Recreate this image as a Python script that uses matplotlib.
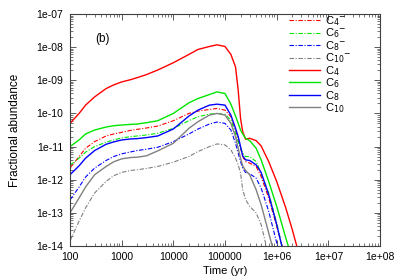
import matplotlib
matplotlib.use("Agg")
import matplotlib.pyplot as plt
import numpy as np

plt.rcParams['font.family'] = ['Liberation Sans', 'DejaVu Sans']

time_yr = [100, 150, 200, 300, 500, 700, 1e3, 1.5e3, 2e3, 3e3, 5e3, 1e4, 2e4, 3e4, 5e4, 7e4,
           1e5, 1.3e5, 1.6e5, 1.8e5, 2e5, 2.2e5, 2.5e5, 3e5, 4e5, 5e5, 7e5, 1e6, 1.5e6, 2e6, 3e6]

# log10 fractional abundances
log_C4m = [-11.65, -11.3, -11.05, -10.85, -10.68, -10.62, -10.57, -10.51, -10.48, -10.44, -10.38,
           -10.22, -10.0, -9.93, -9.88, -9.85,
           -9.9, -10.1, -10.5, -10.8, -11.05, -11.3, -11.45, -11.5, -11.6, -11.9, -12.55, -13.4,
           -14.4, -15.2, -16.0]
log_C6m = [-11.56, -11.35, -11.17, -11.0, -10.87, -10.8, -10.74, -10.7, -10.68, -10.65, -10.6,
           -10.45, -10.22, -10.1, -10.02, -10.0,
           -10.03, -10.2, -10.6, -10.85, -11.05, -11.2, -11.3, -11.3, -11.45, -11.8, -12.4, -13.3,
           -14.5, -15.3, -16.0]
log_C8m = [-12.61, -12.22, -11.92, -11.65, -11.42, -11.3, -11.22, -11.16, -11.12, -11.08, -11.02,
           -10.85, -10.62, -10.47, -10.32, -10.26,
           -10.3, -10.5, -10.9, -11.2, -11.45, -11.65, -11.78, -11.82, -11.95, -12.25, -12.95, -13.9,
           -15.0, -15.8, -16.5]
log_C10m = [-13.85, -13.25, -12.85, -12.4, -12.05, -11.88, -11.78, -11.72, -11.7, -11.66, -11.6,
            -11.47, -11.3, -11.15, -11.0, -10.92,
            -10.95, -11.1, -11.35, -11.55, -11.8, -12.3, -12.6, -12.8, -13.0, -13.35, -14.3, -15.2,
            -16.0, -16.5, -17.0]
log_C4 = [-10.3, -10.0, -9.75, -9.5, -9.25, -9.14, -9.05, -8.98, -8.92, -8.83, -8.69,
          -8.47, -8.22, -8.07, -7.98, -7.93,
          -7.98, -8.22, -8.6, -9.3, -10.15, -10.55, -10.78, -10.75, -10.82, -10.98, -11.45, -12.05,
          -12.85, -13.5, -14.5]
log_C6 = [-11.0, -10.8, -10.62, -10.5, -10.41, -10.37, -10.35, -10.33, -10.32, -10.28, -10.22,
          -10.0, -9.68, -9.55, -9.43, -9.35,
          -9.4, -9.72, -10.08, -10.3, -10.5, -10.62, -10.75, -10.82, -11.05, -11.4, -12.05, -12.8,
          -13.75, -14.4, -15.3]
log_C8 = [-11.85, -11.58, -11.35, -11.12, -10.93, -10.86, -10.8, -10.77, -10.76, -10.73, -10.68,
          -10.47, -10.08, -9.9, -9.75, -9.72,
          -9.75, -10.05, -10.45, -10.7, -11.0, -11.28, -11.4, -11.42, -11.55, -11.78, -12.45, -13.35,
          -14.5, -15.3, -16.0]
log_C10 = [-13.0, -12.55, -12.22, -11.85, -11.6, -11.46, -11.37, -11.33, -11.32, -11.28, -11.13,
           -10.9, -10.45, -10.25, -10.05, -10.0,
           -10.05, -10.3, -10.7, -11.05, -11.35, -11.58, -11.72, -11.85, -12.3, -12.75, -13.6, -14.5,
           -15.5, -16.0, -16.5]

series = [
    (log_C4m, r'C$_4$$^{-}$', 'red', '-.', 0.8),
    (log_C6m, r'C$_6$$^{-}$', '#00e600', '-.', 0.8),
    (log_C8m, r'C$_8$$^{-}$', 'blue', '-.', 0.8),
    (log_C10m, r'C$_{10}$$^{-}$', 'gray', '-.', 0.8),
    (log_C4, r'C$_4$', 'red', '-', 1.0),
    (log_C6, r'C$_6$', '#00e600', '-', 1.0),
    (log_C8, r'C$_8$', 'blue', '-', 1.0),
    (log_C10, r'C$_{10}$', 'gray', '-', 1.0),
]

fig = plt.figure(figsize=(4.0, 2.8), dpi=100)
ax = fig.add_axes([0.175, 0.1214, 0.775, 0.8286])

t = np.array(time_yr)
for vals, lab, col, ls, lw in series:
    if ls == '-.':
        ax.plot(t, 10 ** np.array(vals), color=col, lw=lw, label=lab,
                dashes=(4, 1.5, 1, 1.5))
    else:
        ax.plot(t, 10 ** np.array(vals), color=col, lw=lw, label=lab, ls='-')

ax.set_xscale('log')
ax.set_yscale('log')
ax.set_xlim(100, 1e8)
ax.set_ylim(1e-14, 1e-7)

xt = [1e2, 1e3, 1e4, 1e5, 1e6, 1e7, 1e8]
xtl = ['100', '1000', '10000', '100000', '1e+06', '1e+07', '1e+08']
yt = [1e-14, 1e-13, 1e-12, 1e-11, 1e-10, 1e-9, 1e-8, 1e-7]
ytl = ['1e-14', '1e-13', '1e-12', '1e-11', '1e-10', '1e-09', '1e-08', '1e-07']
ax.set_xticks(xt)
ax.set_xticklabels(xtl)
ax.set_yticks(yt)
ax.set_yticklabels(ytl)
ax.xaxis.set_minor_locator(matplotlib.ticker.LogLocator(base=10, subs=np.arange(2, 10)))
ax.yaxis.set_minor_locator(matplotlib.ticker.LogLocator(base=10, subs=np.arange(2, 10)))
ax.xaxis.set_minor_formatter(matplotlib.ticker.NullFormatter())
ax.yaxis.set_minor_formatter(matplotlib.ticker.NullFormatter())
ax.tick_params(which='both', direction='in', top=True, right=True, labelsize=7.5,
               color='#404040')
ax.tick_params(which='major', length=4, width=0.6)
ax.tick_params(which='minor', length=2, width=0.5)
ax.tick_params(axis='x', pad=4)
ax.tick_params(axis='y', pad=5)
for s in ax.spines.values():
    s.set_color('#404040')
    s.set_linewidth(0.8)

ax.set_xlabel('Time (yr)', fontsize=8, labelpad=3)
ax.set_ylabel('Fractional abundance', fontsize=8.5, labelpad=11)
ax.text(0.08, 0.88, '(b)', transform=ax.transAxes, fontsize=8.5)

leg = ax.legend(loc='upper left', frameon=False, fontsize=8, handlelength=2.8,
                handletextpad=0.5, labelspacing=-0.12, borderpad=0.0,
                borderaxespad=0.0, bbox_to_anchor=(0.705, 1.0))

fig.savefig('out.png', dpi=100)
